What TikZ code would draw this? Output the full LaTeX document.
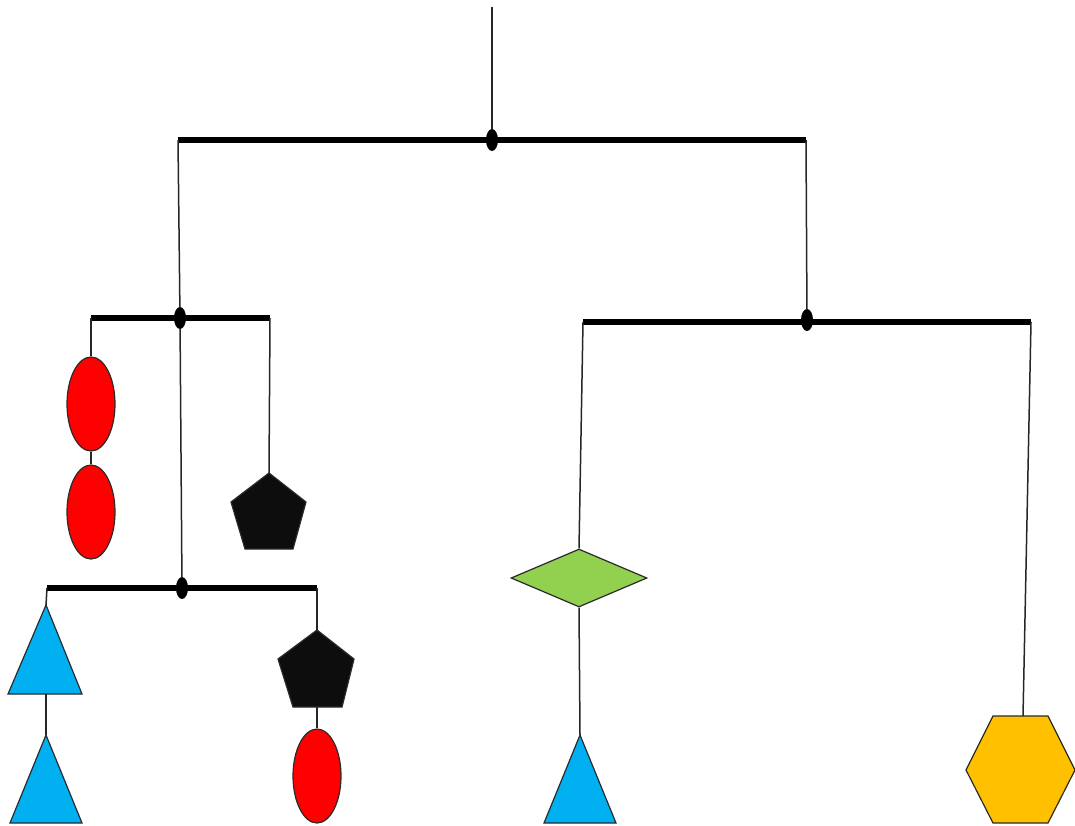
\documentclass[tikz,border=0pt]{standalone}
\usetikzlibrary{shapes.geometric}
\definecolor{mred}{HTML}{FF0000}
\definecolor{mblue}{HTML}{00B0F0}
\definecolor{mgreen}{HTML}{92D050}
\definecolor{mgold}{HTML}{FFC000}
\definecolor{mblack}{HTML}{0D0D0D}
\definecolor{outl}{HTML}{2A2A2A}
\tikzset{
  bar/.style={line width=6pt, black},
  cord/.style={line width=1.5pt, black!85},
  pivot/.style={ellipse, fill=black, inner sep=0pt, minimum width=12pt, minimum height=22pt},
  egg/.style={ellipse, draw=outl, line width=1.2pt, fill=mred, inner sep=0pt, minimum width=48pt, minimum height=94pt},
  shapeline/.style={draw=outl, line width=1.2pt, line join=miter},
  gem/.style={diamond, draw=outl, line width=1.2pt, fill=mgreen, inner sep=0pt, minimum width=136pt, minimum height=58pt}
}
\begin{document}
\begin{tikzpicture}[x=1pt,y=-1pt]
\useasboundingbox (0,0) rectangle (1075,825);
% bar endpoints
\coordinate (top) at (492,7);
\coordinate (b0l) at (178,140); \coordinate (b0r) at (806,140);
\coordinate (b1l) at (91,318);  \coordinate (b1r) at (270,318);
\coordinate (b2l) at (583,322); \coordinate (b2r) at (1031,322);
\coordinate (b3l) at (47,588);  \coordinate (b3r) at (317,588);
% bars
\draw[bar] (b0l) -- (b0r);
\draw[bar] (b1l) -- (b1r);
\draw[bar] (b2l) -- (b2r);
\draw[bar] (b3l) -- (b3r);
% pivots
\node[pivot] (p0) at (492,140) {};
\node[pivot] (p1) at (180,318) {};
\node[pivot] (p2) at (807,320) {};
\node[pivot] (p3) at (182,588) {};
% ellipses
\node[egg] (e1) at (91,404) {};
\node[egg] (e2) at (91,512) {};
\node[egg] (e3) at (317,776) {};
% pentagons
\filldraw[shapeline, fill=mblack] (269,473) -- (306,502) -- (293,549) -- (245,549) -- (231,502) -- cycle;
\coordinate (k1) at (269,473);
\filldraw[shapeline, fill=mblack] (317,630) -- (354,659) -- (342,707) -- (293,707) -- (278,659) -- cycle;
\coordinate (k2t) at (317,630); \coordinate (k2b) at (317,707);
% triangles
\filldraw[shapeline, fill=mblue] (46,605) -- (82,694) -- (8,694) -- cycle;
\coordinate (t1a) at (46,605); \coordinate (t1b) at (46,694);
\filldraw[shapeline, fill=mblue] (46,735) -- (82,823) -- (10,823) -- cycle;
\coordinate (t2a) at (46,735);
\filldraw[shapeline, fill=mblue] (580,735) -- (616,823) -- (544,823) -- cycle;
\coordinate (t3a) at (580,735);
% diamond
\node[gem] (d1) at (579,578) {};
% hexagon
\filldraw[shapeline, fill=mgold] (966,770) -- (993,716) -- (1048,716) -- (1075,770) -- (1048,823) -- (993,823) -- cycle;
\coordinate (h1) at (1023,716);
% cords
\draw[cord] (top) -- (p0);
\draw[cord] (b0l) -- (p1);
\draw[cord] (b0r) -- (p2);
\draw[cord] (b1l) -- (e1.north);
\draw[cord] (e1.south) -- (e2.north);
\draw[cord] (b1r) -- (k1);
\draw[cord] (p1) -- (p3);
\draw[cord] (b3l) -- (t1a);
\draw[cord] (t1b) -- (t2a);
\draw[cord] (b3r) -- (k2t);
\draw[cord] (k2b) -- (e3.north);
\draw[cord] (b2l) -- (d1.north);
\draw[cord] (d1.south) -- (t3a);
\draw[cord] (b2r) -- (h1);
\end{tikzpicture}
\end{document}
